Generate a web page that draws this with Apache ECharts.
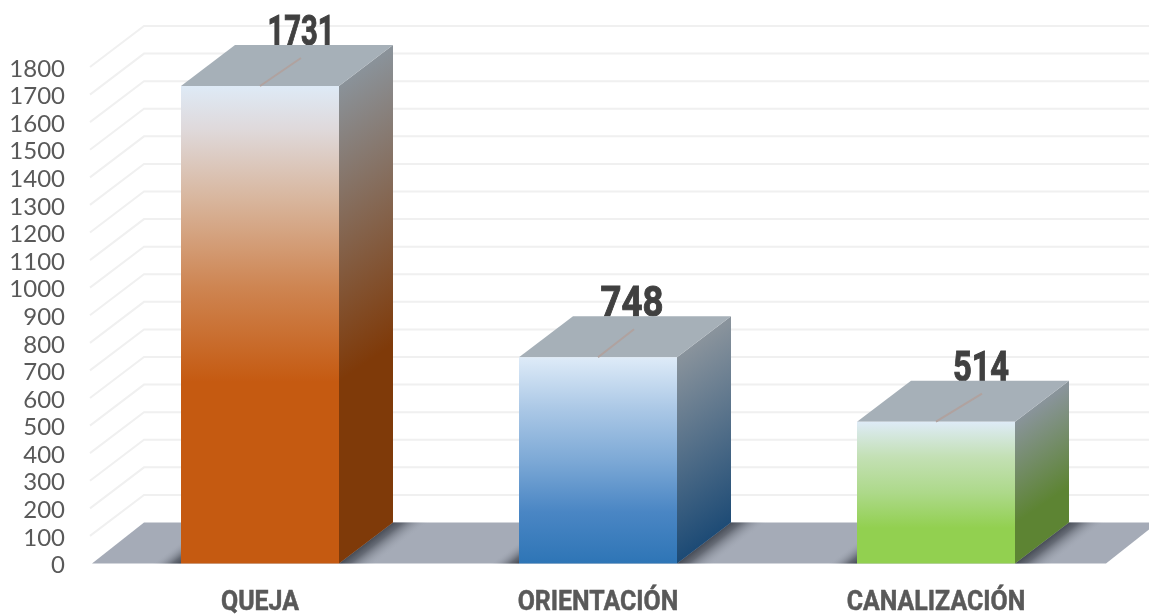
<!DOCTYPE html>
<html>
<head>
<meta charset="utf-8">
<style>html,body{margin:0;padding:0;background:#fff}#c{width:1149px;height:616px}</style>
<script src="https://cdn.jsdelivr.net/npm/echarts@6/dist/echarts.min.js"></script>
</head>
<body>
<div id="c"></div>
<script>
const categories = ['QUEJA', 'ORIENTACIÓN', 'CANALIZACIÓN'];
const values = [1731, 748, 514];
const yTicks = [100,200,300,400,500,600,700,800,900,1000,1100,1200,1300,1400,1500,1600,1700,1800];

const frontStops = [
  [[0,'#DEEAF6'],[0.09,'#DFD9DB'],[0.24,'#D8B59C'],[0.42,'#CE8552'],[0.62,'#C55A11'],[1,'#C55A11']],
  [[0,'#DEEBF8'],[0.25,'#ABC8E6'],[0.5,'#7DA9D6'],[0.75,'#4A86C4'],[1,'#2E75B6']],
  [[0,'#DEEBF7'],[0.25,'#C3E0B4'],[0.5,'#ADD98A'],[0.75,'#92D050'],[1,'#92D050']]
];
const sideStops = [
  [[0,'#8A9299'],[0.62,'#7F3A09'],[1,'#7F3A09']],
  [[0,'#89939C'],[1,'#1C4A75']],
  [[0,'#89949A'],[0.72,'#5D8433'],[1,'#5D8433']]
];
const leaderReach = [41, 36, 46];
const labelShift = [41, 34, 45];
const labelScale = [0.68, 0.85, 0.76];

const barDepthX = 54, floorDepthX = 52, depthY = 41;
const halfW = 79, gridColor = '#F0F0F0', floorColor = '#A5ABB7', topColor = '#A6B0B8';
const G = echarts.graphic;
const grad = (x, y, x2, y2, stops) => new G.LinearGradient(x, y, x2, y2,
  stops.map(s => ({offset: s[0], color: s[1]})), true);

const chart = echarts.init(document.getElementById('c'), null, {renderer: 'canvas'});
chart.setOption({
  animation: false,
  grid: {left: 91, right: 44, top: 67, bottom: 52.5, containLabel: false},
  xAxis: {
    type: 'category', data: categories,
    axisLine: {show: false}, axisTick: {show: false}, splitLine: {show: false},
    axisLabel: {show: false}
  },
  yAxis: {
    type: 'value', min: 0, max: 1800, interval: 100,
    axisLine: {show: false}, axisTick: {show: false}, splitLine: {show: false},
    axisLabel: {margin: 26, align: 'right', formatter: v => '{t|' + v + '}',
      rich: {t: {color: '#595959', fontFamily: 'Lato', fontSize: 24, padding: [4, 0, 0, 0]}}}
  },
  series: [
    { // wall gridlines
      type: 'custom', z: 1, silent: true,
      data: yTicks.map(t => [0, t]), encode: {x: 0, y: 1},
      renderItem(params, api) {
        const y = api.coord([0, api.value(1)])[1];
        const cs = params.coordSys, x = cs.x;
        return {type: 'polyline', shape: {points: [[x - 1, y], [x + floorDepthX + 1, y - depthY], [x + cs.width + 60, y - depthY]]},
          style: {stroke: gridColor, lineWidth: 2, fill: null}};
      }
    },
    { // floor
      type: 'custom', z: 2, silent: true,
      data: [[0, 0]], encode: {x: 0, y: 1},
      renderItem(params, api) {
        const y = api.coord([0, 0])[1];
        const cs = params.coordSys, x = cs.x;
        return {type: 'polygon', shape: {points: [[x + 1, y], [x + floorDepthX + 1, y - depthY], [x + cs.width + floorDepthX + 1, y - depthY], [x + cs.width + 1, y]]},
          style: {fill: floorColor}};
      }
    },
    { // contact shadows on the floor
      type: 'custom', z: 3, silent: true,
      data: values.map((v, i) => [i, v]), encode: {x: 0, y: 1},
      renderItem(params, api) {
        const p = api.coord([api.value(0), 0]);
        const xr = p[0] + halfW, xl = p[0] - halfW, y = p[1];
        const stops = [{offset: 0, color: 'rgba(70,75,85,1)'}, {offset: 0.3, color: 'rgba(80,85,95,0.75)'}, {offset: 1, color: 'rgba(165,171,183,0)'}];
        return {type: 'group', children: [
          {type: 'polygon', shape: {points: [[xr, y], [xr + barDepthX, y - depthY], [xr + barDepthX + 44, y - depthY], [xr + 44, y]]},
            style: {fill: new G.LinearGradient(xr, y, xr + 14, y + 18, stops, true)}},
          {type: 'polygon', shape: {points: [[xl, y], [xl - 34, y], [xl, y - 26]]},
            style: {fill: new G.LinearGradient(xl, y, xl - 11, y - 14, stops, true)}}
        ]};
      }
    },
    { // value labels, partly hidden behind the bar tops
      type: 'custom', z: 4, silent: true,
      data: values.map((v, i) => [i, v]), encode: {x: 0, y: 1},
      renderItem(params, api) {
        const i = api.value(0), v = api.value(1);
        const p = api.coord([i, v]);
        return {type: 'text', x: p[0] + labelShift[i], y: p[1] - 51.5, scaleX: labelScale[i], scaleY: 1,
          style: {x: 0, y: 0, text: String(v), fill: '#404040', stroke: '#404040', lineWidth: 1, align: 'center', verticalAlign: 'middle',
            font: 'bold 43px Roboto'}};
      }
    },
    { // category labels
      type: 'custom', z: 4, silent: true,
      data: categories.map((c, i) => [i, 0]), encode: {x: 0, y: 1},
      renderItem(params, api) {
        const i = api.value(0);
        const p = api.coord([i, 0]);
        return {type: 'text', x: p[0], y: p[1] + 39.5, scaleX: 0.89, scaleY: 1,
          style: {x: 0, y: 0, text: categories[i], fill: '#595959', stroke: '#595959', lineWidth: 0.5, align: 'center', verticalAlign: 'middle',
            font: 'bold 28px Roboto'}};
      }
    },
    { // bars
      type: 'custom', z: 5, silent: true,
      data: values.map((v, i) => [i, v]), encode: {x: 0, y: 1},
      renderItem(params, api) {
        const i = api.value(0), v = api.value(1);
        const top = api.coord([i, v]), base = api.coord([i, 0]);
        const xl = top[0] - halfW, xr = top[0] + halfW, yt = top[1], yb = base[1], h = yb - yt;
        const ex = xr + 0.565 * 0.824 * h, ey = yt + 0.824 * 0.824 * h;
        return {type: 'group', children: [
          {type: 'polygon', shape: {points: [[xr, yt], [xr + barDepthX, yt - depthY], [xr + barDepthX, yb - depthY], [xr, yb]]},
            style: {fill: grad(xr, yt, ex, ey, sideStops[i])}},
          {type: 'polygon', shape: {points: [[xl, yt], [xl + barDepthX, yt - depthY], [xr + barDepthX, yt - depthY], [xr, yt]]},
            style: {fill: topColor}},
          {type: 'rect', shape: {x: xl, y: yt, width: xr - xl, height: h},
            style: {fill: grad(0, yt, 0, yb, frontStops[i])}},
          {type: 'line', shape: {x1: top[0], y1: yt, x2: top[0] + leaderReach[i], y2: yt - 28},
            style: {stroke: '#B0A29F', lineWidth: 2}}
        ]};
      }
    }
  ]
});
</script>
</body>
</html>
